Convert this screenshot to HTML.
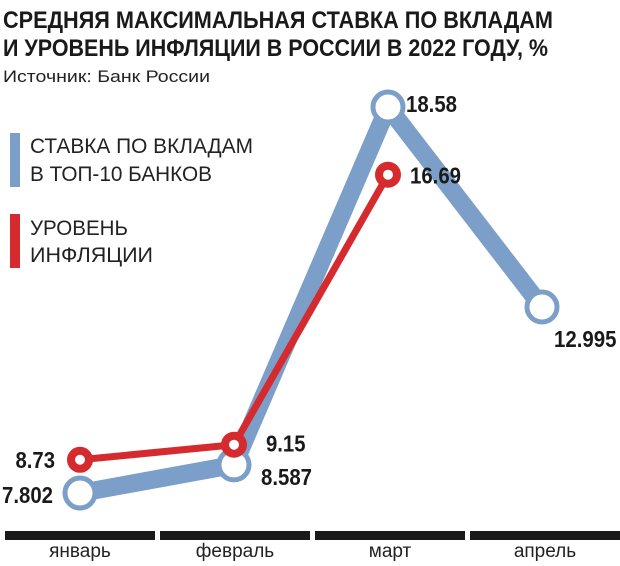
<!DOCTYPE html>
<html><head><meta charset="utf-8"><style>
body{margin:0;background:#fff;}
svg{display:block;font-family:"Liberation Sans","DejaVu Sans",sans-serif;}
</style></head><body>
<svg id="chart" width="620" height="566" viewBox="0 0 620 566">
<text x="3" y="28" font-size="24" font-weight="bold" fill="#1a1a1a" textLength="550" lengthAdjust="spacingAndGlyphs">СРЕДНЯЯ МАКСИМАЛЬНАЯ СТАВКА ПО ВКЛАДАМ</text>
<text x="3" y="56" font-size="24" font-weight="bold" fill="#1a1a1a" textLength="545" lengthAdjust="spacingAndGlyphs">И УРОВЕНЬ ИНФЛЯЦИИ В РОССИИ В 2022 ГОДУ, %</text>
<text x="3" y="82" font-size="17" fill="#222" textLength="207" lengthAdjust="spacingAndGlyphs">Источник: Банк России</text>
<g>
<rect x="10" y="133" width="10" height="54" fill="#7b9fc9"/>
<text x="30" y="153" font-size="21" fill="#222" textLength="223" lengthAdjust="spacingAndGlyphs">СТАВКА ПО ВКЛАДАМ</text>
<text x="30" y="181" font-size="21" fill="#222" textLength="182" lengthAdjust="spacingAndGlyphs">В ТОП-10 БАНКОВ</text>
<rect x="10" y="214" width="10" height="54" fill="#d52b2f"/>
<text x="30" y="235" font-size="21" fill="#222" textLength="98" lengthAdjust="spacingAndGlyphs">УРОВЕНЬ</text>
<text x="30" y="262" font-size="21" fill="#222" textLength="123" lengthAdjust="spacingAndGlyphs">ИНФЛЯЦИИ</text>
</g>
<g id="axis"></g>
<g id="series"></g>
</svg>
<script>
const months = ["январь","февраль","март","апрель"];
const depositRate = [7.802, 8.587, 18.58, 12.995];
const inflation = [8.73, 9.15, 16.69];
const depositLabels = ["7.802","8.587","18.58","12.995"];
const inflationLabels = ["8.73","9.15","16.69"];

const NS="http://www.w3.org/2000/svg";
function xPos(i){return 80+154*i;}
function yPos(v){return 493-(v-7.802)*35.81;}
function labelLen(s){let n=0;for(const ch of s)n+=(ch==='.')?5:11.5;return n;}
function mk(tag,attrs,parent){const e=document.createElementNS(NS,tag);for(const k in attrs)e.setAttribute(k,attrs[k]);parent.appendChild(e);return e;}
const axis=document.getElementById('axis'), ser=document.getElementById('series');
months.forEach((m,i)=>{
  const cx=80+155*i;
  const seg=mk('rect',{x:cx-75,y:531,width:150,height:9,fill:'#1a1a1a'},axis);
  
  
  const t=mk('text',{x:cx,y:557,'font-size':19,fill:'#222','text-anchor':'middle'},axis);
  t.textContent=m;
  
  
});
const bp=depositRate.map((v,i)=>xPos(i)+','+yPos(v)).join(' ');
const bl=mk('polyline',{points:bp,fill:'none',stroke:'#7b9fc9','stroke-width':18,'stroke-linejoin':'round'},ser);


const rp=inflation.map((v,i)=>xPos(i)+','+yPos(v)).join(' ');
depositRate.forEach((v,i)=>{
  const c=mk('circle',{cx:xPos(i),cy:yPos(v),r:15,fill:'#fff',stroke:'#7b9fc9','stroke-width':5},ser);
  
  
});
const rl=mk('polyline',{points:rp,fill:'none',stroke:'#d52b2f','stroke-width':7,'stroke-linejoin':'round'},ser);


inflation.forEach((v,i)=>{
  const c=mk('circle',{cx:xPos(i),cy:yPos(v),r:9,fill:'#fff',stroke:'#d52b2f','stroke-width':8},ser);
  
  
});
const dOff=[[-27,10,'end'],[27,20,'start'],[18,5,'start'],[12,40,'start']];
depositRate.forEach((v,i)=>{
  const s=depositLabels[i];
  const t=mk('text',{x:xPos(i)+dOff[i][0],y:yPos(v)+dOff[i][1],'font-size':23,'font-weight':'bold',fill:'#1a1a1a','text-anchor':dOff[i][2],textLength:labelLen(s),lengthAdjust:'spacingAndGlyphs'},ser);
  t.textContent=s;
  
  
});
const rOff=[[-25,8,'end'],[32,7,'start'],[22,9,'start']];
inflation.forEach((v,i)=>{
  const s=inflationLabels[i];
  const t=mk('text',{x:xPos(i)+rOff[i][0],y:yPos(v)+rOff[i][1],'font-size':23,'font-weight':'bold',fill:'#1a1a1a','text-anchor':rOff[i][2],textLength:labelLen(s),lengthAdjust:'spacingAndGlyphs'},ser);
  t.textContent=s;
  
  
});
</script>
</body></html>
